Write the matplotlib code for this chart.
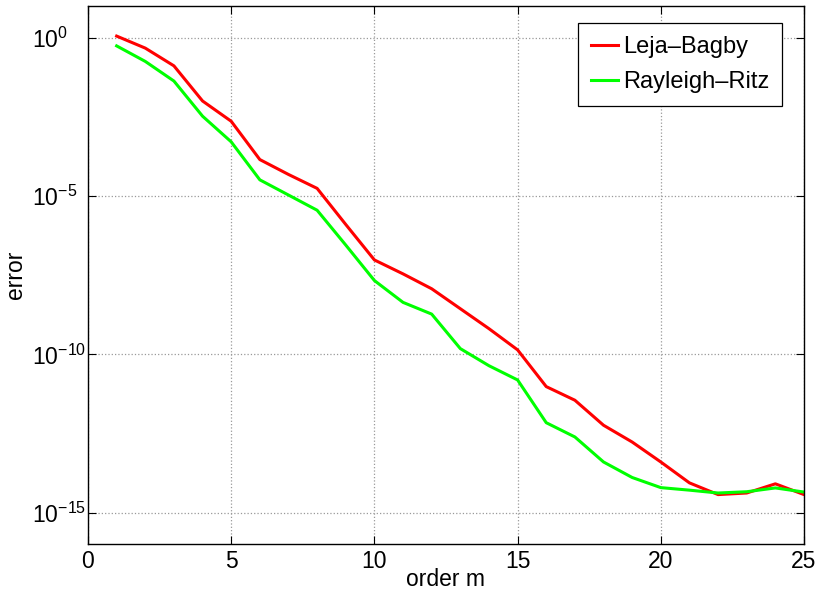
import numpy as np
import matplotlib
matplotlib.use("Agg")
import matplotlib.pyplot as plt
from matplotlib.ticker import FixedLocator, NullLocator

plt.rcParams['font.family'] = ['Liberation Sans', 'DejaVu Sans']
plt.rcParams['mathtext.fontset'] = 'custom'
plt.rcParams['mathtext.rm'] = 'Liberation Sans'

# order of the approximation
orders = list(range(1, 26))

# log10 of the error for each method
leja_bagby_log = [0.05, -0.33, -0.89, -2.0, -2.64, -3.85, -4.32, -4.76, -5.9, -7.02,
                  -7.46, -7.93, -8.56, -9.19, -9.86, -11.02, -11.45, -12.24, -12.77, -13.40,
                  -14.06, -14.43, -14.38, -14.09, -14.43]
rayleigh_ritz_log = [-0.26, -0.75, -1.37, -2.48, -3.29, -4.49, -4.97, -5.45, -6.55, -7.67,
                     -8.36, -8.73, -9.82, -10.36, -10.81, -12.16, -12.61, -13.40, -13.89, -14.21,
                     -14.29, -14.38, -14.34, -14.22, -14.35]

leja_bagby = 10.0 ** np.array(leja_bagby_log)
rayleigh_ritz = 10.0 ** np.array(rayleigh_ritz_log)

fig = plt.figure(figsize=(8.2, 5.96), dpi=100)
ax = fig.add_axes([88 / 820, 51.7 / 596, 716 / 820, 538.3 / 596])

ax.semilogy(orders, leja_bagby, color=(1, 0, 0), lw=2.2, label='Leja\u2013Bagby')
ax.semilogy(orders, rayleigh_ritz, color=(0, 1, 0), lw=2.2, label='Rayleigh\u2013Ritz')

ax.set_xlim(0, 25)
ax.set_ylim(1e-16, 1e1)
ax.set_xticks([0, 5, 10, 15, 20, 25])
ax.yaxis.set_major_locator(FixedLocator([1e0, 1e-5, 1e-10, 1e-15]))
ax.yaxis.set_minor_locator(NullLocator())
ax.set_yticklabels([r'$10^{0}$', r'$10^{-5}$', r'$10^{-10}$', r'$10^{-15}$'])

ax.tick_params(direction='in', top=True, right=True, labelsize=16.5, length=6, width=0.8)
ax.tick_params(axis='x', pad=4)
# base "10" of every y label starts at the same x, exponents run to the right
ax.tick_params(axis='y', pad=40)
for lbl in ax.get_yticklabels():
    lbl.set_horizontalalignment('left')

ax.grid(True, linestyle=':', color='#999999', linewidth=0.9)
for s in ax.spines.values():
    s.set_linewidth(1.0)

ax.set_xlabel('order m', fontsize=16.5, labelpad=-3.5)
ax.set_ylabel('error', fontsize=16.5, labelpad=4)

leg = ax.legend(loc='upper right', bbox_to_anchor=(0.9693, 0.9684), borderaxespad=0,
                fontsize=17, fancybox=False, edgecolor='black', framealpha=1,
                handlelength=1.15, handletextpad=0.2, borderpad=0.55, labelspacing=0.55)
leg.get_frame().set_linewidth(0.9)

fig.savefig('out.png', dpi=100)
